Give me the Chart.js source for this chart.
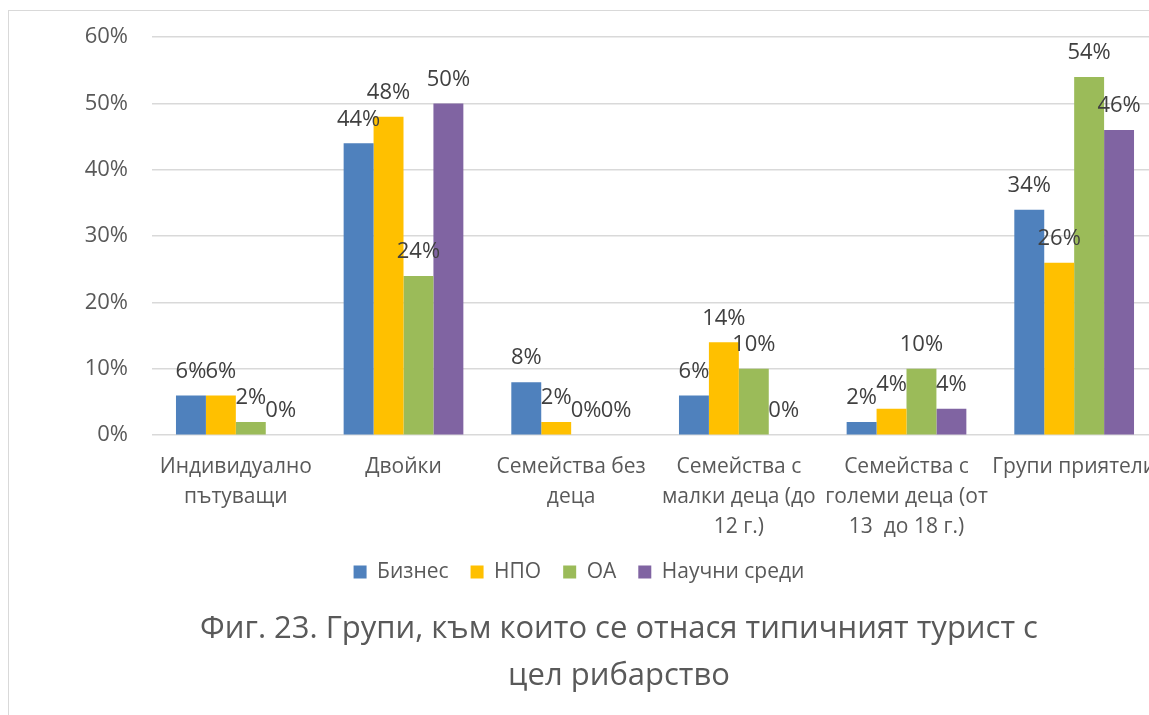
<!DOCTYPE html>
<html>
<head>
<meta charset="utf-8">
<script src="https://cdn.jsdelivr.net/npm/chart.js@4.4.1/dist/chart.umd.min.js"></script>
<style>
  html, body { margin: 0; padding: 0; background: #fff; overflow: hidden; width: 1149px; height: 715px; }
  #frame { position: absolute; left: 8px; top: 10px; width: 1300px; height: 800px; border: 1.5px solid #d9d9d9; box-sizing: border-box; }
  #c { position: absolute; left: 0; top: 0; }
</style>
</head>
<body>
<div id="frame"></div>
<canvas id="c" width="1164" height="715" style="width:1164px;height:715px"></canvas>
<script>
const categories = [
  ["Индивидуално", "пътуващи"],
  ["Двойки"],
  ["Семейства без", "деца"],
  ["Семейства с", "малки деца (до", "12 г.)"],
  ["Семейства с", "големи деца (от", "13  до 18 г.)"],
  ["Групи приятели"]
];
const seriesNames = ["Бизнес", "НПО", "ОА", "Научни среди"];
const biznes = [6, 44, 8, 6, 2, 34];
const npo = [6, 48, 2, 14, 4, 26];
const oa = [2, 24, 0, 10, 10, 54];
const nauchni = [0, 50, 0, 0, 4, 46];
const colors = ["#4F81BD", "#FFC000", "#9BBB59", "#8064A2"];
const yTicks = [0, 10, 20, 30, 40, 50, 60];
const captionLines = ["Фиг. 23. Групи, към които се отнася типичният турист с", "цел рибарство"];

const FONT = "'Open Sans', 'Noto Sans', sans-serif";

const dataLabels = {
  id: 'dataLabels',
  afterDatasetsDraw(chart) {
    const ctx = chart.ctx;
    ctx.save();
    ctx.font = "22px " + FONT;
    ctx.fillStyle = "#404040";
    ctx.textAlign = "center";
    ctx.textBaseline = "middle";
    chart.data.datasets.forEach((ds, i) => {
      const meta = chart.getDatasetMeta(i);
      meta.data.forEach((el, j) => {
        ctx.fillText(ds.data[j] + "%", el.x, el.y - 24);
      });
    });
    ctx.restore();
  }
};

const caption = {
  id: 'caption',
  afterDraw(chart) {
    const ctx = chart.ctx;
    ctx.save();
    ctx.font = "31px " + FONT;
    ctx.fillStyle = "#595959";
    ctx.textAlign = "center";
    ctx.textBaseline = "alphabetic";
    ctx.fillText(captionLines[0], 619, 638);
    ctx.fillText(captionLines[1], 619, 685);
    ctx.restore();
  }
};

const seriesData = [biznes, npo, oa, nauchni];

new Chart(document.getElementById('c'), {
  type: 'bar',
  data: {
    labels: categories,
    datasets: seriesNames.map((n, i) => ({
      label: n,
      data: seriesData[i],
      backgroundColor: colors[i],
      borderWidth: 0,
      barPercentage: 1.0,
      categoryPercentage: 0.714
    }))
  },
  options: {
    responsive: false,
    animation: false,
    layout: { padding: { top: 37, right: 6, left: 0, bottom: 122.4 } },
    plugins: {
      legend: {
        position: 'bottom',
        labels: {
          boxWidth: 13,
          boxHeight: 13,
          padding: 22,
          color: '#595959',
          font: { size: 21, family: FONT }
        }
      },
      title: { display: false },
      tooltip: { enabled: false }
    },
    scales: {
      x: {
        grid: { display: false, drawTicks: true, tickLength: 17 },
        border: { display: false },
        ticks: {
          color: '#595959',
          font: { size: 21, family: FONT, lineHeight: 1.43 },
          padding: 0,
          maxRotation: 0,
          autoSkip: false
        },
        afterFit(scale) { scale.height = 104.4; }
      },
      y: {
        min: 0,
        max: 60,
        afterBuildTicks(scale) { scale.ticks = yTicks.map(v => ({ value: v })); },
        grid: { color: '#d9d9d9', lineWidth: 1.5, drawTicks: false },
        border: { display: false },
        ticks: {
          color: '#595959',
          font: { size: 22, family: FONT },
          padding: 24,
          callback: v => v + '%'
        },
        afterFit(scale) { scale.width = 152; }
      }
    }
  },
  plugins: [dataLabels, caption]
});
</script>
</body>
</html>
